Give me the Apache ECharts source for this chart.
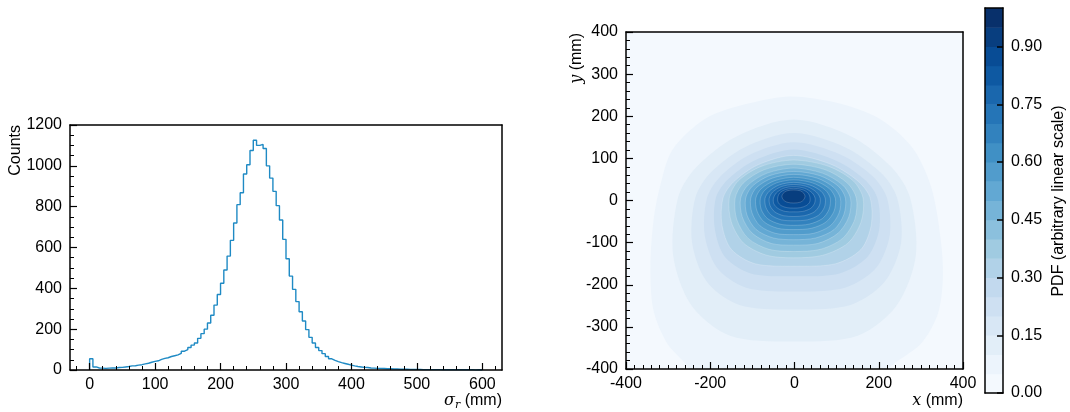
<!DOCTYPE html>
<html>
<head>
<meta charset="utf-8">
<script src="https://cdn.jsdelivr.net/npm/echarts@6/dist/echarts.min.js"></script>
<style>
html,body{margin:0;padding:0;background:#fff;}
#chart{width:1070px;height:412px;}
</style>
</head>
<body>
<div id="chart"></div>
<script>
// histogram of sigma_r, 5 mm bins starting at 0
var binStart = 0;
var binWidth = 5;
var counts = [
  55, 15, 10, 9, 8, 9, 10, 10, 12, 13,
  15, 17, 20, 21, 24, 26, 30, 33, 38, 42,
  45, 52, 57, 60, 66, 70, 74, 82, 92, 100,
  110, 122, 132, 155, 178, 200, 230, 268, 318, 370,
  425, 490, 558, 635, 720, 810, 868, 960, 1005, 1075,
  1125, 1100, 1105, 1085, 1000, 940, 875, 805, 735, 640,
  545, 460, 395, 335, 285, 240, 198, 160, 132, 110,
  95, 80, 66, 55, 47, 41, 36, 32, 28, 24,
  20, 17, 15, 13, 12, 10, 9, 8, 8, 7,
  6, 6, 5, 5, 4, 4, 4, 3, 3, 3,
  3, 2, 2, 2, 2, 2, 2, 1, 1, 1,
  1, 1, 1, 1, 1, 1, 1, 0, 1, 0
];
var histTicks = [0, 100, 200, 300, 400, 500, 600];
var histMinorTicks = [-20, 20, 40, 60, 80, 120, 140, 160, 180, 220, 240, 260, 280, 320, 340, 360, 380,
  420, 440, 460, 480, 520, 540, 560, 580, 620];

// density contours (x, y in mm), one outline per level
var levels = [0.05, 0.10, 0.15, 0.20, 0.25, 0.30, 0.35, 0.40, 0.45, 0.50, 0.55, 0.60, 0.65, 0.70, 0.75, 0.80, 0.85, 0.90];
var contours = [
  [[-10,247],[100,232],[200,195],[280,125],[325,30],[348,-100],[352,-190],[340,-270],[300,-340],[222,-400],[200,-450],[-240,-450],[-250,-400],[-303,-338],[-335,-260],[-342,-160],[-335,-50],[-320,30],[-290,120],[-210,195],[-110,230]],
  [[-2,192],[137,151],[233,76],[275,5],[288,-131],[242,-250],[150,-321],[-2,-335],[-153,-321],[-244,-250],[-288,-131],[-277,5],[-236,76],[-140,151]],
  [[-2,160],[121,126],[207,64],[244,5],[253,-101],[214,-193],[133,-248],[-2,-259],[-131,-248],[-208,-193],[-243,-101],[-236,5],[-201,64],[-119,126]],
  [[-2,138],[109,109],[187,56],[220,5],[226,-83],[193,-161],[120,-207],[-2,-216],[-115,-207],[-183,-161],[-213,-83],[-208,5],[-177,56],[-105,109]],
  [[-2,121],[98,95],[167,49],[197,5],[201,-69],[173,-134],[107,-173],[-2,-180],[-104,-173],[-165,-134],[-189,-69],[-187,5],[-159,49],[-95,95]],
  [[-2,107],[89,85],[153,44],[180,5],[182,-59],[158,-116],[98,-150],[-2,-156],[-94,-150],[-150,-116],[-172,-59],[-170,5],[-145,44],[-86,85]],
  [[-2,96],[81,81],[140,46],[163,5],[158,-51],[127,-101],[67,-130],[-2,-136],[-66,-130],[-121,-101],[-150,-51],[-155,5],[-134,46],[-79,81]],
  [[-2,86],[73,73],[126,41],[147,5],[143,-45],[114,-90],[61,-116],[-2,-121],[-60,-116],[-110,-90],[-137,-45],[-141,5],[-122,41],[-72,73]],
  [[-2,77],[66,65],[114,37],[133,5],[129,-39],[103,-78],[55,-102],[-2,-106],[-55,-102],[-100,-78],[-124,-39],[-128,5],[-110,37],[-65,65]],
  [[-2,69],[60,59],[104,34],[121,5],[117,-34],[94,-69],[50,-89],[-2,-93],[-50,-89],[-91,-69],[-113,-34],[-116,5],[-100,34],[-59,59]],
  [[-2,62],[54,53],[93,31],[109,5],[106,-29],[85,-60],[45,-78],[-2,-81],[-45,-78],[-82,-60],[-101,-29],[-104,5],[-90,31],[-53,53]],
  [[-2,55],[48,47],[83,28],[97,5],[94,-25],[75,-51],[40,-66],[-2,-69],[-40,-66],[-72,-51],[-89,-25],[-92,5],[-79,28],[-47,47]],
  [[-2,49],[42,42],[73,25],[85,5],[82,-21],[66,-43],[35,-56],[-2,-59],[-35,-56],[-64,-43],[-79,-21],[-81,5],[-70,25],[-42,42]],
  [[-2,43],[36,37],[63,22],[73,5],[71,-16],[57,-35],[30,-46],[-2,-48],[-31,-46],[-55,-35],[-68,-16],[-70,5],[-60,22],[-36,37]],
  [[-2,38],[30,33],[52,20],[61,5],[59,-12],[47,-27],[24,-36],[-2,-38],[-26,-36],[-47,-27],[-58,-12],[-60,5],[-52,20],[-31,33]],
  [[-2,33],[24,29],[42,18],[49,5],[47,-8],[38,-19],[19,-26],[-2,-27],[-22,-26],[-39,-19],[-49,-8],[-50,5],[-43,18],[-26,29]],
  [[-2,29],[18,26],[32,18],[37,6],[36,-4],[28,-12],[14,-17],[-2,-18],[-18,-17],[-32,-12],[-39,-4],[-40,6],[-35,18],[-21,26]],
  [[-2,25],[14,23],[22,17],[25,10],[22,2],[14,-4],[-2,-6],[-18,-4],[-27,2],[-30,10],[-27,17],[-18,23]]
];

// colour bar: 20 bands of 0.05
var bandEdges = [0, 0.05, 0.10, 0.15, 0.20, 0.25, 0.30, 0.35, 0.40, 0.45, 0.50,
  0.55, 0.60, 0.65, 0.70, 0.75, 0.80, 0.85, 0.90, 0.95, 1.00];
var bandColors = ['#f4f9fe', '#ecf4fc', '#e2eef8', '#d8e7f5', '#cee0f2', '#c2d9ee', '#b1d2e8', '#a0cbe1',
  '#8bc0dd', '#76b4d8', '#62a8d3', '#519ccc', '#4090c5', '#3282be', '#2575b7', '#1a67ad',
  '#0e59a2', '#084c95', '#083e7f', '#08306b'];
var cbTicks = [0, 0.15, 0.30, 0.45, 0.60, 0.75, 0.90];

var FONT = 'Liberation Sans';
var black = '#000';

var chart = echarts.init(document.getElementById('chart'));

var histData = [[binStart, 0]];
for (var i = 0; i < counts.length; i++) {
  histData.push([binStart + i * binWidth, counts[i]]);
}
histData.push([binStart + counts.length * binWidth, counts[counts.length - 1]]);

function lineOnly(extra) {
  var o = {
    type: 'value', z: 10,
    axisLine: {show: true, onZero: false, lineStyle: {color: black, width: 1.5}},
    axisTick: {show: false}, axisLabel: {show: false}, splitLine: {show: false}
  };
  for (var k in extra) o[k] = extra[k];
  return o;
}

function contourItem(k) {
  return function (params, api) {
    if (params.dataIndex !== 0) return;
    var pts = contours[k].map(function (p) { return api.coord(p); });
    var cs = params.coordSys;
    return {
      type: 'polygon',
      shape: {points: pts, smooth: 0.3},
      style: {
        fill: bandColors[k + 1],
        stroke: k >= 5 ? 'rgba(255,255,255,0.28)' : null,
        lineWidth: 0.7
      },
      clipPath: {type: 'rect', shape: {x: cs.x, y: cs.y, width: cs.width, height: cs.height}}
    };
  };
}

var series = [{
  type: 'line',
  xAxisIndex: 0, yAxisIndex: 0,
  step: 'end',
  symbol: 'none',
  data: histData,
  lineStyle: {color: '#1f8ac4', width: 1.4},
  clip: true,
  animation: false
}];

contours.forEach(function (c, k) {
  series.push({
    type: 'custom',
    name: 'level ' + levels[k],
    xAxisIndex: 3, yAxisIndex: 2,
    clip: true,
    silent: true,
    animation: false,
    renderItem: contourItem(k),
    data: c
  });
});

var cbData = [];
for (var b = 0; b < bandColors.length; b++) {
  cbData.push([bandEdges[b], bandEdges[b + 1], b]);
}
series.push({
  type: 'custom',
  xAxisIndex: 5, yAxisIndex: 4,
  silent: true,
  animation: false,
  renderItem: function (params, api) {
    var lo = api.value(0), hi = api.value(1);
    var p0 = api.coord([0, hi]);
    var p1 = api.coord([1, lo]);
    return {
      type: 'rect',
      shape: {x: p0[0], y: p0[1], width: p1[0] - p0[0], height: p1[1] - p0[1] + 0.5},
      style: {fill: bandColors[api.value(2)]}
    };
  },
  data: cbData
});

var labelStyle = {color: black, fontSize: 16, fontFamily: FONT};
var plain = function (v) { return String(v); };

var option = {
  backgroundColor: '#fff',
  animation: false,
  grid: [
    {left: 70, top: 125, width: 432, height: 245},
    {left: 626, top: 32, width: 337, height: 337, show: true, borderWidth: 0, backgroundColor: bandColors[0]},
    {left: 985, top: 8, width: 18, height: 385}
  ],
  xAxis: [
    {
      gridIndex: 0, type: 'value', min: -30, max: 630, position: 'bottom', z: 10,
      axisLine: {show: true, onZero: false, lineStyle: {color: black, width: 1.5}},
      axisTick: {show: true, inside: true, length: 7, customValues: histTicks, lineStyle: {color: black, width: 1.2}},
      axisLabel: Object.assign({customValues: histTicks, margin: 7, formatter: plain}, labelStyle),
      splitLine: {show: false}
    },
    {
      gridIndex: 0, type: 'value', min: -30, max: 630, position: 'bottom', z: 10,
      axisLine: {show: false},
      axisTick: {show: true, inside: true, length: 4, customValues: histMinorTicks, lineStyle: {color: black, width: 1}},
      axisLabel: {show: false, customValues: histMinorTicks},
      splitLine: {show: false}
    },
    lineOnly({gridIndex: 0, min: -30, max: 630, position: 'top'}),
    {
      gridIndex: 1, type: 'value', min: -400, max: 400, interval: 200, position: 'bottom', z: 10,
      axisLine: {show: true, onZero: false, lineStyle: {color: black, width: 1.5}},
      axisTick: {show: true, inside: true, length: 7, lineStyle: {color: black, width: 1.2}},
      minorTick: {show: true, splitNumber: 10, length: 4, lineStyle: {color: black, width: 1}},
      axisLabel: Object.assign({margin: 7, formatter: plain}, labelStyle),
      splitLine: {show: false}, minorSplitLine: {show: false}
    },
    lineOnly({gridIndex: 1, min: -400, max: 400, position: 'top'}),
    lineOnly({gridIndex: 2, min: 0, max: 1, position: 'bottom'}),
    lineOnly({gridIndex: 2, min: 0, max: 1, position: 'top'})
  ],
  yAxis: [
    {
      gridIndex: 0, type: 'value', min: 0, max: 1200, interval: 200, position: 'left', z: 10,
      axisLine: {show: true, onZero: false, lineStyle: {color: black, width: 1.5}},
      axisTick: {show: true, inside: true, length: 7, lineStyle: {color: black, width: 1.2}},
      minorTick: {show: true, splitNumber: 4, length: 4, lineStyle: {color: black, width: 1}},
      axisLabel: Object.assign({margin: 8, formatter: plain}, labelStyle),
      splitLine: {show: false}, minorSplitLine: {show: false}
    },
    lineOnly({gridIndex: 0, min: 0, max: 1200, position: 'right'}),
    {
      gridIndex: 1, type: 'value', min: -400, max: 400, interval: 100, position: 'left', z: 10,
      axisLine: {show: true, onZero: false, lineStyle: {color: black, width: 1.5}},
      axisTick: {show: true, inside: true, length: 7, lineStyle: {color: black, width: 1.2}},
      minorTick: {show: true, splitNumber: 5, length: 4, lineStyle: {color: black, width: 1}},
      axisLabel: Object.assign({margin: 8, formatter: plain}, labelStyle),
      splitLine: {show: false}, minorSplitLine: {show: false}
    },
    lineOnly({gridIndex: 1, min: -400, max: 400, position: 'right'}),
    {
      gridIndex: 2, type: 'value', min: 0, max: 1, position: 'right', z: 10,
      axisLine: {show: true, onZero: false, lineStyle: {color: black, width: 1.5}},
      axisTick: {show: true, inside: true, length: 6, customValues: cbTicks, lineStyle: {color: black, width: 1.5}},
      axisLabel: Object.assign({
        customValues: cbTicks, margin: 8,
        formatter: function (v) { return v.toFixed(2); }
      }, labelStyle),
      splitLine: {show: false}
    },
    lineOnly({gridIndex: 2, min: 0, max: 1, position: 'left'})
  ],
  graphic: [
    {
      type: 'text', x: 16, y: 125, rotation: Math.PI / 2,
      style: {text: 'Counts', fontSize: 16, fontFamily: FONT, fill: black, align: 'right', verticalAlign: 'middle'}
    },
    {
      type: 'text', x: 502, y: 401,
      style: {
        text: '{m|σ}{s|r} (mm)', fontSize: 16, fontFamily: FONT, fill: black, align: 'right', verticalAlign: 'middle',
        rich: {
          m: {fontSize: 16, fontFamily: 'DejaVu Serif', fontStyle: 'italic', lineHeight: 20},
          s: {fontSize: 11, fontFamily: 'DejaVu Serif', fontStyle: 'italic', verticalAlign: 'bottom', lineHeight: 20}
        }
      }
    },
    {
      type: 'text', x: 963, y: 401,
      style: {
        text: '{m|x} (mm)', fontSize: 16, fontFamily: FONT, fill: black, align: 'right', verticalAlign: 'middle',
        rich: {m: {fontSize: 16, fontFamily: 'DejaVu Serif', fontStyle: 'italic'}}
      }
    },
    {
      type: 'text', x: 577, y: 33, rotation: Math.PI / 2,
      style: {
        text: '{m|y} (mm)', fontSize: 16, fontFamily: FONT, fill: black, align: 'right', verticalAlign: 'middle',
        rich: {m: {fontSize: 16, fontFamily: 'DejaVu Serif', fontStyle: 'italic'}}
      }
    },
    {
      type: 'text', x: 1059, y: 201, rotation: Math.PI / 2,
      style: {text: 'PDF (arbitrary linear scale)', fontSize: 16, fontFamily: FONT, fill: black, align: 'center', verticalAlign: 'middle'}
    }
  ],
  series: series
};

chart.setOption(option);
</script>
</body>
</html>
